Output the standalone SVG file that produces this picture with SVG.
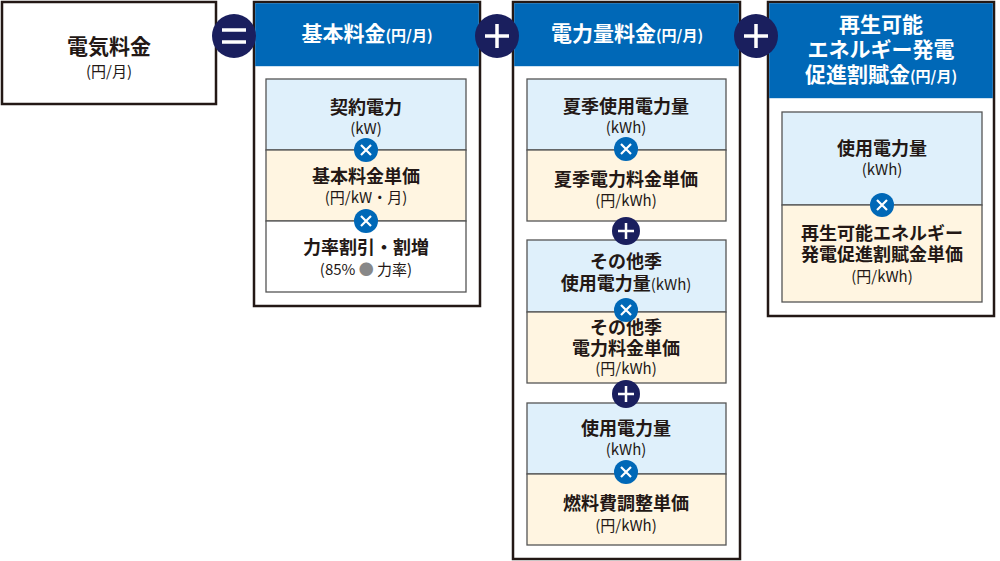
<svg xmlns="http://www.w3.org/2000/svg" width="1000" height="561" viewBox="0 0 1000 561">
<style>
text{font-family:"Noto Sans CJK JP","Noto Sans",sans-serif;text-anchor:middle;fill:#231815;font-weight:bold}
.o{fill:#fff;stroke:#231815;stroke-width:2.5}
.h{fill:#0068b7}
.ht{fill:#fff;font-size:21px}
.s{font-size:15px;font-weight:normal}
.m{font-size:18px}
.b{fill:#dff0fb;stroke:#555;stroke-width:1.3}
.c{fill:#fff5e1;stroke:#555;stroke-width:1.3}
.w{fill:#fff;stroke:#555;stroke-width:1.3}
.x{fill:#0068b7}
.p{fill:#1a1f5e}
.op{stroke:#fff;stroke-width:3.5;fill:none}
.xo{stroke:#fff;stroke-width:2.2;fill:none}
</style>
<defs>
<g id="mul"><circle r="12" class="x"/><path class="xo" d="M-5,-5L5,5M5,-5L-5,5"/></g>
<g id="plusS"><circle r="14" class="p"/><path class="op" d="M-8,0H8M0,-8V8" style="stroke-width:2.5"/></g>
<g id="plusL"><circle r="22" class="p"/><path class="op" d="M-12,0H12M0,-12V12"/></g>
</defs>
<g id="total">
<rect class="o" x="2" y="2" width="214" height="102"/>
<text x="109" y="54" style="font-size:21px">電気料金</text>
<text x="109" y="77" class="s">(円/月)</text>
</g>
<g id="basic">
<rect class="o" x="254" y="2" width="226" height="304"/>
<rect class="h" x="255.2" y="3.2" width="223.6" height="63"/>
<text x="367" y="41" class="ht">基本料金<tspan style="font-size:15px">(円/月)</tspan></text>
<rect class="b" x="266" y="79" width="200" height="71"/>
<rect class="c" x="266" y="150" width="200" height="71"/>
<rect class="w" x="266" y="221" width="200" height="71"/>
<text x="366" y="114" class="m">契約電力</text><text x="366" y="134" class="s">(kW)</text>
<text x="366" y="183" class="m">基本料金単価</text><text x="366" y="203" class="s">(円/kW・月)</text>
<text x="366" y="254" class="m">力率割引・割増</text><text x="366" y="275" class="s">(85% <tspan style="fill:#888">●</tspan> 力率)</text>
<use href="#mul" x="366" y="150"/><use href="#mul" x="366" y="221"/>
</g>
<g id="energy">
<rect class="o" x="513" y="2" width="227" height="557"/>
<rect class="h" x="514.2" y="3.2" width="224.6" height="63"/>
<text x="627" y="41" class="ht">電力量料金<tspan style="font-size:15px">(円/月)</tspan></text>
<rect class="b" x="527" y="79" width="199" height="71"/>
<rect class="c" x="527" y="150" width="199" height="71"/>
<text x="626" y="113" class="m">夏季使用電力量</text><text x="626" y="133" class="s">(kWh)</text>
<text x="626" y="186" class="m">夏季電力料金単価</text><text x="626" y="206" class="s">(円/kWh)</text>
<use href="#mul" x="626" y="149"/>
<rect class="b" x="527" y="240" width="199" height="72"/>
<rect class="c" x="527" y="312" width="199" height="71"/>
<text x="626" y="268" class="m">その他季</text><text x="626" y="290" class="m">使用電力量<tspan class="s">(kWh)</tspan></text>
<text x="626" y="334" class="m">その他季</text><text x="626" y="355" class="m">電力料金単価</text><text x="626" y="374" class="s">(円/kWh)</text>
<use href="#mul" x="626" y="310"/>
<rect class="b" x="527" y="403" width="199" height="71"/>
<rect class="c" x="527" y="474" width="199" height="71"/>
<text x="626" y="435" class="m">使用電力量</text><text x="626" y="455" class="s">(kWh)</text>
<text x="626" y="510" class="m">燃料費調整単価</text><text x="626" y="531" class="s">(円/kWh)</text>
<use href="#mul" x="626" y="472"/>
<use href="#plusS" x="626" y="231"/><use href="#plusS" x="626" y="394"/>
</g>
<g id="renew">
<rect class="o" x="768" y="2" width="226" height="314"/>
<rect class="h" x="769.2" y="3.2" width="223.6" height="95"/>
<text x="881" y="32" class="ht">再生可能</text>
<text x="881" y="57" class="ht">エネルギー発電</text>
<text x="881" y="82" class="ht">促進割賦金<tspan style="font-size:15px">(円/月)</tspan></text>
<rect class="b" x="782" y="112" width="200" height="93"/>
<rect class="c" x="782" y="205" width="200" height="97"/>
<text x="882" y="155" class="m">使用電力量</text><text x="882" y="175" class="s">(kWh)</text>
<text x="882" y="240" class="m">再生可能エネルギー</text><text x="882" y="261" class="m">発電促進割賦金単価</text><text x="882" y="282" class="s">(円/kWh)</text>
<use href="#mul" x="882" y="205"/>
</g>
<g id="connectors">
<circle cx="234" cy="36" r="22" class="p"/><path class="op" d="M222,30H246M222,42H246"/>
<use href="#plusL" x="497" y="36"/>
<use href="#plusL" x="756" y="36"/>
</g>
</svg>
